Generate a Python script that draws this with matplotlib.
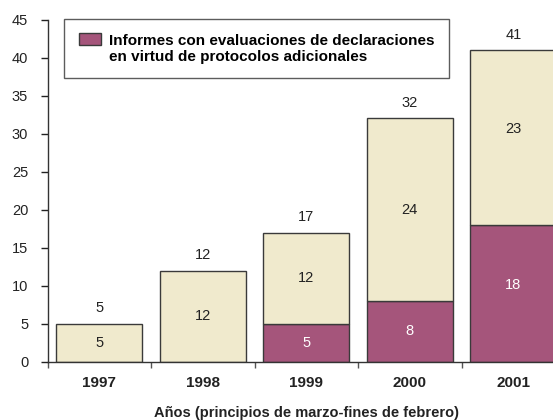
import matplotlib
matplotlib.use("Agg")
import matplotlib.pyplot as plt
import numpy as np
from matplotlib.patches import Patch, Rectangle
from matplotlib.legend_handler import HandlerPatch

plt.rcParams['font.family'] = ['Liberation Sans', 'DejaVu Sans']

years = ["1997", "1998", "1999", "2000", "2001"]
purple_vals = [0, 0, 5, 8, 18]
beige_vals = [5, 12, 12, 24, 23]
totals = [5, 12, 17, 32, 41]
legend_label = "Informes con evaluaciones de declaraciones\nen virtud de protocolos adicionales"
xlabel = "Años (principios de marzo-fines de febrero)"

PURPLE = "#A5557B"
BEIGE = "#F0EACD"
EDGE = "#3a3a3a"
TXT = "#222222"

W, H = 553, 420
fig = plt.figure(figsize=(W / 100, H / 100), dpi=100)
left_px, right_px = 47.6, 565.0
bottom_px, top_px = 361.7, 19.7
ax = fig.add_axes([left_px / W, (H - bottom_px) / H, (right_px - left_px) / W, (bottom_px - top_px) / H])

x = np.arange(len(years))
bw = 0.83
for i in range(len(years)):
    nudge = 6 if i == len(years) - 1 else 0
    if purple_vals[i] > 0:
        ax.bar(x[i], purple_vals[i], bw, color=PURPLE, edgecolor=EDGE, linewidth=1.0, zorder=2)
        ax.annotate(str(purple_vals[i]), (x[i], purple_vals[i] / 2), xytext=(0, nudge),
                    textcoords='offset points', ha='center', va='center',
                    color='white', fontsize=10.5, zorder=3)
    ax.bar(x[i], beige_vals[i], bw, bottom=purple_vals[i], color=BEIGE, edgecolor=EDGE,
           linewidth=1.0, zorder=2)
    ax.annotate(str(beige_vals[i]), (x[i], purple_vals[i] + beige_vals[i] / 2), xytext=(0, nudge),
                textcoords='offset points', ha='center', va='center', color=TXT,
                fontsize=10.5, zorder=3)
    ax.annotate(str(totals[i]), (x[i], totals[i]), xytext=(0, 11), textcoords='offset points',
                ha='center', va='center', color=TXT, fontsize=10.5)

ax.set_xlim(-0.5, len(years) - 0.5)
ax.set_ylim(0, 45)
ax.set_yticks(np.arange(0, 46, 5))
ax.tick_params(axis='y', labelsize=10.5, length=5, width=1, colors=TXT, pad=9)

ax.set_xticks(np.arange(-0.5, len(years), 1.0))
ax.set_xticklabels([])
ax.set_xticks(x, minor=True)
ax.set_xticklabels(years, minor=True, fontweight='bold', fontsize=11)
ax.tick_params(axis='x', which='major', length=4, width=1, color='#555555')
ax.tick_params(axis='x', which='minor', length=0, pad=10, colors=TXT)

ax.set_xlabel(xlabel, fontweight='bold', fontsize=10.5, color=TXT, labelpad=12)

for s in ['top', 'right']:
    ax.spines[s].set_visible(False)
for s in ['left', 'bottom']:
    ax.spines[s].set_color('#333333')
    ax.spines[s].set_linewidth(1)


def first_line_patch(legend, orig_handle, xdescent, ydescent, width, height, fontsize):
    return Rectangle((-xdescent, -ydescent + 0.62 * fontsize), width, height)


handle = Patch(facecolor=PURPLE, edgecolor=EDGE, linewidth=1)
leg = fig.legend([handle], [legend_label],
                 loc='upper left', bbox_to_anchor=(64 / W, 1 - 19 / H), borderaxespad=0,
                 prop={'weight': 'bold', 'size': 11}, frameon=True, fancybox=False,
                 edgecolor='#333333', borderpad=0.95, handlelength=1.5, handleheight=0.8,
                 handletextpad=0.5, labelspacing=0.2,
                 handler_map={Patch: HandlerPatch(patch_func=first_line_patch)})
leg.get_frame().set_linewidth(1)
leg.get_frame().set_facecolor('white')

fig.savefig("out.png", dpi=100)
